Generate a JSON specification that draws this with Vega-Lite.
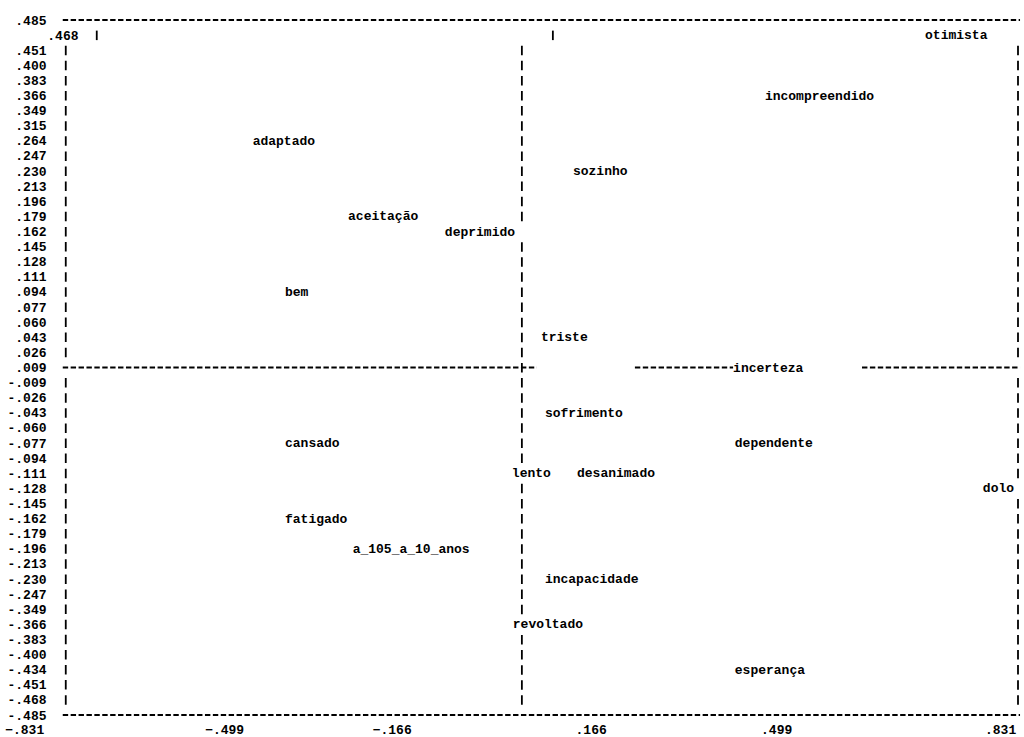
{
  "$schema": "https://vega.github.io/schema/vega-lite/v6.json",
  "autosize": "none",
  "width": 1003,
  "height": 695,
  "padding": {"left": 15, "top": 20, "right": 6, "bottom": 22},
  "background": "white",
  "config": {
    "view": {"stroke": null},
    "font": "Liberation Mono"
  },
  "datasets": {
    "hlines": [
      {"x": -0.7574, "x2": 0.8983, "row": ".485"},
      {"x": -0.7574, "x2": 0.8983, "row": "-.485"},
      {"x": -0.7574, "x2": 0.0626, "row": ".009"},
      {"x": 0.2322, "x2": 0.402, "row": ".009"},
      {"x": 0.625, "x2": 0.8983, "row": ".009"}
    ],
    "vlines": [
      {"x": -0.7522, "row": ".451", "row2": ".026"},
      {"x": -0.7522, "row": "-.009", "row2": "-.468"},
      {"x": 0.0367, "row": ".451", "row2": ".179"},
      {"x": 0.0367, "row": ".145", "row2": "-.094"},
      {"x": 0.0367, "row": "-.128", "row2": "-.349"},
      {"x": 0.0367, "row": "-.383", "row2": "-.468"},
      {"x": 0.8948, "row": ".451", "row2": ".026"},
      {"x": 0.8948, "row": "-.009", "row2": "-.111"},
      {"x": 0.8948, "row": "-.145", "row2": "-.468"},
      {"x": -0.6986, "row": ".468", "row2": ".468"},
      {"x": 0.0903, "row": ".468", "row2": ".468"}
    ],
    "words": [
      {"word": "otimista", "x": 0.734, "row": ".468"},
      {"word": "incompreendido", "x": 0.457, "row": ".366"},
      {"word": "adaptado", "x": -0.429, "row": ".264"},
      {"word": "sozinho", "x": 0.125, "row": ".230"},
      {"word": "aceitação", "x": -0.264, "row": ".179"},
      {"word": "deprimido", "x": -0.0965, "row": ".162"},
      {"word": "bem", "x": -0.373, "row": ".094"},
      {"word": "triste", "x": 0.0696, "row": ".043"},
      {"word": "incerteza", "x": 0.402, "row": ".009"},
      {"word": "sofrimento", "x": 0.0765, "row": "-.043"},
      {"word": "cansado", "x": -0.373, "row": "-.077"},
      {"word": "dependente", "x": 0.405, "row": "-.077"},
      {"word": "lento", "x": 0.0194, "row": "-.111"},
      {"word": "desanimado", "x": 0.132, "row": "-.111"},
      {"word": "dolo", "x": 0.834, "row": "-.128"},
      {"word": "fatigado", "x": -0.373, "row": "-.162"},
      {"word": "a_105_a_10_anos", "x": -0.256, "row": "-.196"},
      {"word": "incapacidade", "x": 0.0765, "row": "-.230"},
      {"word": "revoltado", "x": 0.021, "row": "-.366"},
      {"word": "esperança", "x": 0.405, "row": "-.434"}
    ]
  },
  "encoding": {
    "x": {
      "field": "x",
      "type": "quantitative",
      "scale": {"domain": [-0.84, 0.8948], "nice": false, "zero": false},
      "axis": {
        "title": null,
        "values": [-0.831, -0.499, -0.166, 0.166, 0.499, 0.831],
        "labelExpr": "replace(format(datum.value, '.3f'), '0.', '.')",
        "domain": false,
        "ticks": false,
        "grid": false,
        "labelFlush": false,
        "labelOverlap": false,
        "labelFont": "Liberation Mono",
        "labelFontWeight": "bold",
        "labelFontSize": 13,
        "labelColor": "black",
        "labelBaseline": "middle",
        "labelPadding": 14,
        "labelOffset": {
          "condition": [
            {"test": "datum.value == -0.831", "value": 4},
            {"test": "datum.value == -0.499", "value": 12},
            {"test": "datum.value == -0.166", "value": -13},
            {"test": "datum.value == 0.166", "value": -6},
            {"test": "datum.value == 0.499", "value": -13},
            {"test": "datum.value == 0.831", "value": 19}
          ],
          "value": 0
        }
      }
    },
    "y": {
      "field": "row",
      "type": "ordinal",
      "scale": {
        "type": "point",
        "padding": 0,
        "domain": [".485",".468",".451",".400",".383",".366",".349",".315",".264",".247",".230",".213",".196",".179",".162",".145",".128",".111",".094",".077",".060",".043",".026",".009","-.009","-.026","-.043","-.060","-.077","-.094","-.111","-.128","-.145","-.162","-.179","-.196","-.213","-.230","-.247","-.349","-.366","-.383","-.400","-.434","-.451","-.468","-.485"]
      },
      "axis": {
        "title": null,
        "offset": -51,
        "domain": false,
        "ticks": false,
        "grid": false,
        "labelOverlap": false,
        "labelFont": "Liberation Mono",
        "labelFontWeight": "bold",
        "labelFontSize": 13,
        "labelColor": "black",
        "labelAlign": "right",
        "labelBaseline": "middle",
        "labelPadding": {"condition": {"test": "datum.label == '.468'", "value": -12}, "value": 20}
      }
    }
  },
  "layer": [
    {
      "data": {"name": "hlines"},
      "mark": {"type": "rule", "color": "black", "strokeWidth": 1.8, "strokeDash": [5.4, 2.5]},
      "encoding": {"x2": {"field": "x2"}}
    },
    {
      "data": {"name": "vlines"},
      "mark": {"type": "rule", "color": "black", "strokeWidth": 1.8, "strokeDash": [9.5, 5.6], "yOffset": -4.5, "y2Offset": 5},
      "encoding": {"y2": {"field": "row2"}}
    },
    {
      "data": {"name": "words"},
      "mark": {"type": "text", "align": "left", "baseline": "middle", "font": "Liberation Mono", "fontWeight": "bold", "fontSize": 13, "color": "black"},
      "encoding": {"text": {"field": "word"}}
    }
  ]
}
